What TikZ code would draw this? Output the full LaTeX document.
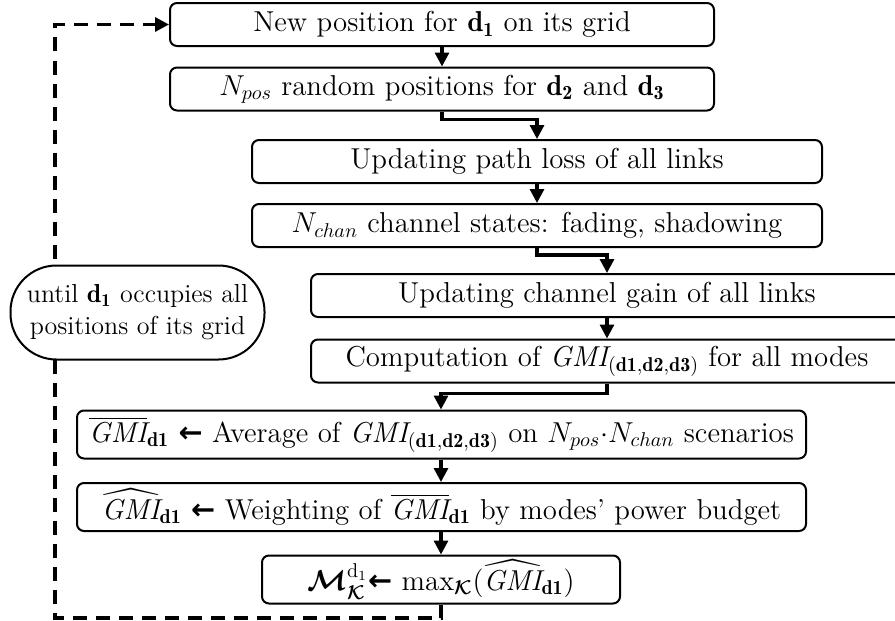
\documentclass[tikz,border=0pt]{standalone}
\usepackage{amsmath,amssymb,bm}
\usepackage{fontspec}
\newfontfamily\arrowfont{DejaVu Sans}
\usetikzlibrary{arrows.meta}
\newcommand{\larr}{{\arrowfont\bfseries ←}}
\newcommand{\dd}[1]{\mathbf{d}_{\mathbf{#1}}}
\newcommand{\gmi}{\mathit{GMI}}
\tikzset{
  stepbox/.style={draw, line width=1pt, rounded corners=3.5pt, fill=white,
    inner sep=0pt, minimum height=21.5pt},
  loopbox/.style={draw, line width=1pt, rounded corners=23pt, fill=white,
    align=center, inner sep=0pt, minimum width=127pt, minimum height=47pt,
    font=\fontsize{13}{16}\selectfont},
  flow/.style={line width=1.6pt, -{Triangle[length=7pt,width=7pt]}},
  back/.style={flow, dash pattern=on 7pt off 4.5pt},
}
\begin{document}
\begin{tikzpicture}[x=0.5pt, y=-0.5pt, font=\Large]
      \useasboundingbox (0,0) rectangle (895,621);
      \draw
        (442,24.5) node[stepbox, minimum width=272pt] (b1){New position for $\dd{1}$ on its grid}
        (442,89) node[stepbox, minimum width=272pt] (b2){$N_{pos}$ random positions for $\dd{2}$ and $\dd{3}$}
        (537,161.5) node[stepbox, minimum width=285pt] (b3){Updating path loss of all links}
        (537,225.5) node[stepbox, minimum width=285pt] (b4){$N_{chan}$ channel states: fading, shadowing}
        (607,295.5) node[stepbox, minimum width=296pt] (b5){Updating channel gain of all links}
        (607,361) node[stepbox, minimum width=296pt] (b6){Computation of $\gmi_{(\mathbf{d1},\mathbf{d2},\mathbf{d3})}$ for all modes}
        (441.5,434.5) node[stepbox, minimum width=364.5pt, minimum height=24pt] (b7){$\overline{\gmi}_{\mathbf{d1}}$ \larr{} Average of $\gmi_{(\mathbf{d1},\mathbf{d2},\mathbf{d3})}$ on $N_{pos}{\cdot}N_{chan}$ scenarios}
        (441.5,507) node[stepbox, minimum width=364.5pt, minimum height=24pt] (b8){$\widehat{\gmi}_{\mathbf{d1}}$ \larr{} Weighting of $\overline{\gmi}_{\mathbf{d1}}$ by modes' power budget}
        (441,579.5) node[stepbox, minimum width=179pt, minimum height=24pt] (b9){$\bm{\mathcal{M}}^{\mathrm{d}_1}_{\bm{\mathcal{K}}}$\larr{} $\max_{\bm{\mathcal{K}}}(\widehat{\gmi}_{\mathbf{d1}})$};
      \coordinate (c1) at (55,618);
      \draw[back] (b9.south) |- (c1) |- (b1.west);
      \node[loopbox] (l1) at (137.5,312.5) {until $\dd{1}$ occupies all\\positions of its grid};
      \begin{scope}[flow]
        \draw (b1) to (b2);
        \draw (b2.south) -- ++(0,8) -| (b3.north);
        \draw (b3) to (b4);
        \draw (b4.south) -- ++(0,7) -| (b5.north);
        \draw (b5) to (b6);
        \draw (b6.south) -- ++(0,10) -| (b9.north |- b7.north);
        \draw (b9.north |- b7.south) to (b9.north |- b8.north);
        \draw (b9.north |- b8.south) to (b9.north);
      \end{scope}
    \end{tikzpicture}
\end{document}
